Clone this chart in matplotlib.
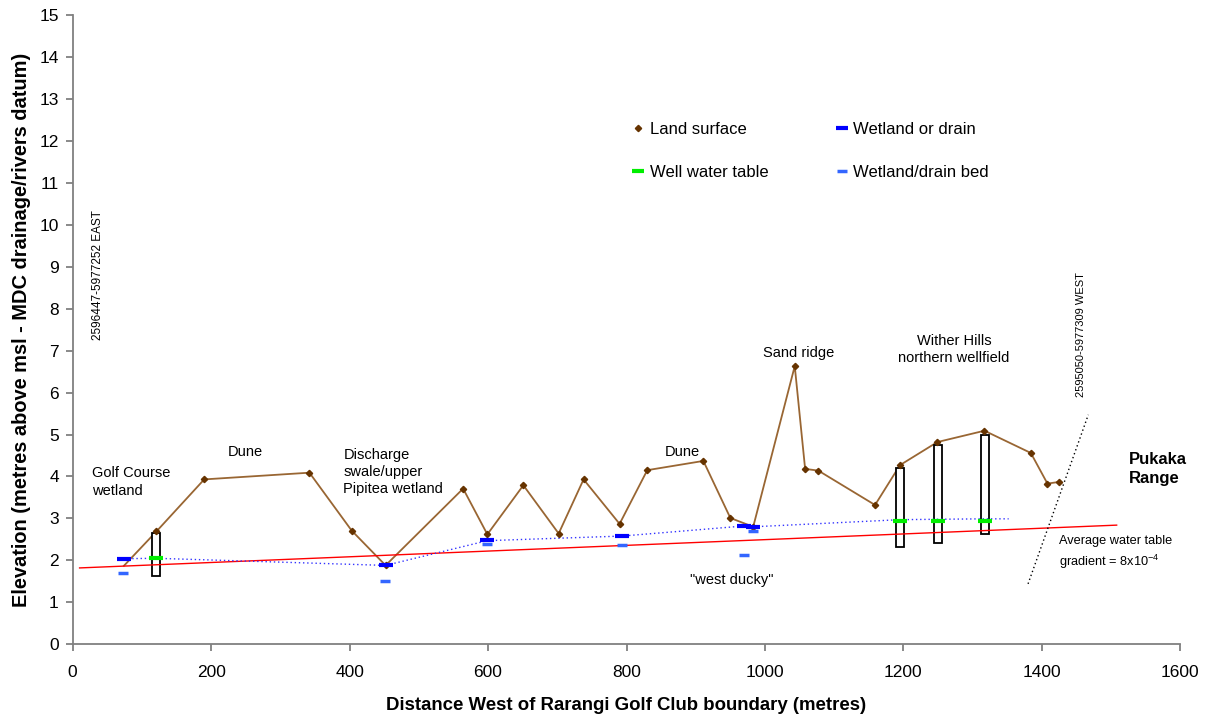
import numpy as np
import matplotlib
matplotlib.use('Agg')
import matplotlib.pyplot as plt
from matplotlib.patches import Rectangle
from matplotlib.lines import Line2D

plt.rcParams['font.family'] = ['Liberation Sans', 'DejaVu Sans']
plt.rcParams['mathtext.default'] = 'regular'

# land surface profile
land_x = [74, 121, 190, 342, 403, 452, 564, 599, 651, 702, 738, 790, 830, 911, 950, 983,
          1043, 1058, 1077, 1159, 1195, 1249, 1317, 1384, 1408, 1425]
land_y = [1.87, 2.69, 3.93, 4.09, 2.71, 1.88, 3.71, 2.62, 3.79, 2.64, 3.93, 2.87, 4.15, 4.37, 3.01, 2.80,
          6.63, 4.18, 4.14, 3.32, 4.27, 4.82, 5.09, 4.56, 3.83, 3.87]

# wetland / drain water level and bed
wet_x = [74, 452, 599, 794, 970, 982]
wet_y = [2.04, 1.89, 2.48, 2.58, 2.82, 2.80]
bed_x = [73, 451, 599, 794, 970, 982]
bed_y = [1.70, 1.50, 2.40, 2.36, 2.12, 2.69]

# wells
well_x = [120, 1195, 1250, 1318]
well_wt = [2.05, 2.94, 2.94, 2.95]
well_top = [2.66, 4.20, 4.75, 4.99]
well_bot = [1.63, 2.32, 2.42, 2.62]

# interpreted water table (dotted)
wt_x = [74, 120, 452, 599, 794, 970, 983, 1195, 1250, 1317, 1352]
wt_y = [2.04, 2.05, 1.88, 2.47, 2.58, 2.82, 2.80, 2.97, 2.98, 2.99, 2.99]

# average gradient line and range-front line
grad_x = [10, 1508]
grad_y = [1.82, 2.84]
front_x = [1380, 1467]
front_y = [1.44, 5.47]

box_w = 12
brown = '#996633'
grey = '#808080'

fig = plt.figure(figsize=(12.11, 7.15), dpi=100)
ax = fig.add_axes([0.060, 0.0989, 0.9147, 0.8802])

ax.plot(land_x, land_y, color=brown, lw=1.3, zorder=2)
ax.plot(land_x[1:], land_y[1:], ls='none', marker='D', ms=3.2, color='#663300', zorder=6)

for x, t, b in zip(well_x, well_top, well_bot):
    ax.add_patch(Rectangle((x - box_w / 2, b), box_w, t - b, facecolor='white',
                           edgecolor='black', lw=1.3, zorder=3))

ax.plot(grad_x, grad_y, color='#ff0000', lw=1.0, zorder=4)
ax.plot(wt_x, wt_y, color='#3333ff', lw=1.0, ls=(0, (1, 2)), zorder=4)
ax.plot(front_x, front_y, color='black', lw=1.0, ls=(0, (1, 2)), zorder=4)

ax.plot(wet_x, wet_y, ls='none', marker='_', ms=10, mew=3, color='#0000ff', zorder=7)
ax.plot(bed_x, bed_y, ls='none', marker='_', ms=7, mew=2.5, color='#3366ff', zorder=7)
ax.plot(well_x, well_wt, ls='none', marker='_', ms=10, mew=3, color='#00ee00', zorder=7)

# legend
handles = [
    Line2D([], [], ls='none', marker='D', ms=3.2, color='#663300'),
    Line2D([], [], ls='none', marker='_', ms=9, mew=3, color='#00ee00'),
    Line2D([], [], ls='none', marker='_', ms=9, mew=3, color='#0000ff'),
    Line2D([], [], ls='none', marker='_', ms=7, mew=2.5, color='#3366ff'),
]
labels = ['Land surface', 'Well water table', 'Wetland or drain', 'Wetland/drain bed']
ax.legend(handles, labels, loc='upper left', bbox_to_anchor=(0.497, 0.843), ncol=2,
          frameon=False, fontsize=12, handlelength=0.8, handletextpad=0.3,
          labelspacing=1.65, columnspacing=4.0, borderpad=0)

# annotations
fs = 10.5
ax.text(28, 3.87, 'Golf Course\nwetland', fontsize=fs, ha='left', va='center', linespacing=1.3)
ax.text(249, 4.58, 'Dune', fontsize=fs, ha='center', va='center')
ax.text(391, 4.11, 'Discharge\nswale/upper\nPipitea wetland', fontsize=fs, ha='left', va='center',
        linespacing=1.3)
ax.text(880, 4.58, 'Dune', fontsize=fs, ha='center', va='center')
ax.text(1048, 6.95, 'Sand ridge', fontsize=fs, ha='center', va='center')
ax.text(1273, 7.03, 'Wither Hills\nnorthern wellfield', fontsize=fs, ha='center', va='center',
        linespacing=1.3)
ax.text(952, 1.53, '"west ducky"', fontsize=fs, ha='center', va='center')
ax.text(1526, 4.18, 'Pukaka\nRange', fontsize=12, fontweight='bold', ha='left', va='center',
        linespacing=1.3)
ax.text(1424, 2.18, 'Average water table\ngradient = 8x10$^{-4}$', fontsize=9.2, ha='left',
        va='center', linespacing=1.4)
ax.text(36.5, 8.79, '2596447-5977252 EAST', fontsize=8.5, rotation=90, ha='center', va='center')
ax.text(1457, 7.38, '2595050-5977309 WEST', fontsize=8, rotation=90, ha='center', va='center')

ax.set_xlim(0, 1600)
ax.set_ylim(0, 15)
ax.set_xticks(np.arange(0, 1601, 200))
ax.set_yticks(np.arange(0, 16, 1))
for s in ['top', 'right']:
    ax.spines[s].set_visible(False)
for s in ['left', 'bottom']:
    ax.spines[s].set_color(grey)
    ax.spines[s].set_linewidth(1.3)
ax.tick_params(axis='both', colors=grey, labelcolor='black', labelsize=12.5, length=5, width=1.3)
ax.tick_params(axis='x', pad=10)
ax.tick_params(axis='y', pad=5)

ax.set_xlabel('Distance West of Rarangi Golf Club boundary (metres)', fontsize=13.4,
              fontweight='bold', labelpad=12)
ax.set_ylabel('Elevation (metres above msl - MDC drainage/rivers datum)', fontsize=14.4,
              fontweight='bold', labelpad=6)

fig.savefig('out.png', dpi=100)
